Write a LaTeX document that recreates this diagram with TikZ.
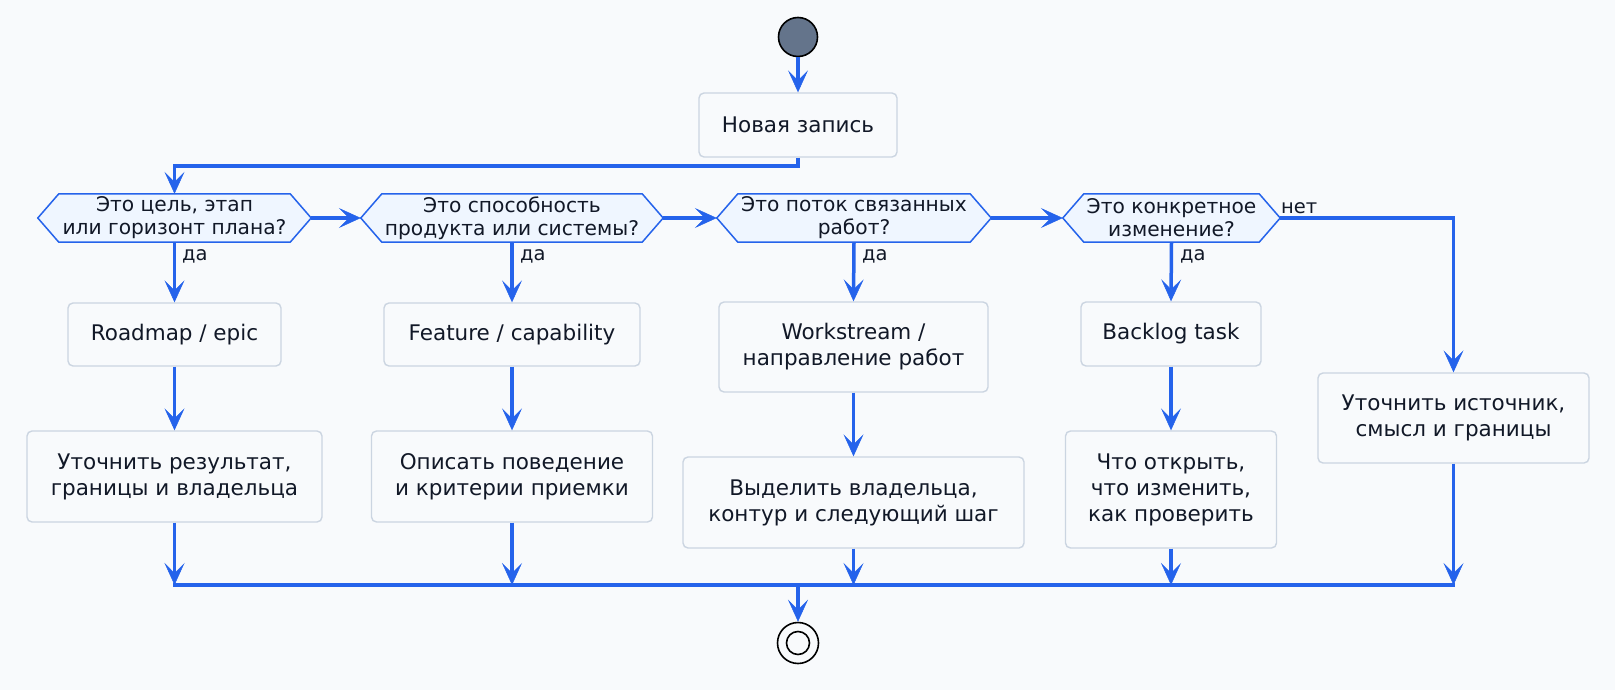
\documentclass[tikz,border=0pt]{standalone}
\usepackage{fontspec}
\setmainfont{DejaVu Sans}
\usetikzlibrary{arrows.meta,calc}
\definecolor{bgc}{HTML}{F8FAFC}
\definecolor{flow}{HTML}{2563EB}
\definecolor{hexfill}{HTML}{EFF6FF}
\definecolor{boxline}{HTML}{CBD5E1}
\definecolor{boxfill}{HTML}{F8FAFC}
\definecolor{ink}{HTML}{111827}
\definecolor{startfill}{HTML}{64748B}
\pgfdeclarelayer{background}
\pgfsetlayers{background,main}
\begin{document}
\begin{tikzpicture}[x=1pt,y=-1pt,
  boxn/.style={draw=boxline, fill=boxfill, rounded corners=5pt, line width=1.4pt,
    align=center, font=\fontsize{21.5}{26}\selectfont, text=ink, inner sep=0pt},
  hexn/.style={align=center, font=\fontsize{20.2}{23}\selectfont, text=ink,
    inner sep=0pt, minimum height=48pt},
  hexd/.style={draw=flow, fill=hexfill, line width=1.5pt, line join=miter},
  conn/.style={draw=flow, line width=3.5pt,
    -{Stealth[length=22pt,width=20pt,inset=10pt,line width=0.5pt]}},
  plainconn/.style={draw=flow, line width=3.5pt},
  lbl/.style={font=\fontsize{19.5}{22}\selectfont, text=ink, inner sep=0pt, anchor=west}]
\begin{pgfonlayer}{background}
\fill[bgc] (0,0) rectangle (1615,690);
\end{pgfonlayer}
\useasboundingbox (0,0) rectangle (1615,690);

% start / end
\node[circle, draw=black, line width=1.6pt, fill=startfill, minimum size=39pt, inner sep=0pt] (start) at (798,37) {};
\node[circle, draw=black, line width=1.6pt, fill=bgc, minimum size=41pt, inner sep=0pt] (stop) at (798,643) {};
\node[circle, draw=black, line width=1.6pt, minimum size=23pt, inner sep=0pt] (stopin) at (798,643) {};

% boxes
\node[boxn, minimum width=198pt, minimum height=64pt] (new) at (798,125) {Новая запись};
\node[boxn, minimum width=213pt, minimum height=63pt] (road) at (174.5,334.5) {Roadmap / epic};
\node[boxn, minimum width=295pt, minimum height=91pt] (res) at (174.5,476.5) {Уточнить результат,\\границы и владельца};
\node[boxn, minimum width=256pt, minimum height=63pt] (feat) at (512,334.5) {Feature / capability};
\node[boxn, minimum width=281pt, minimum height=91pt] (opis) at (512,476.5) {Описать поведение\\и критерии приемки};
\node[boxn, minimum width=269pt, minimum height=90pt] (work) at (853.5,347) {Workstream /\\направление работ};
\node[boxn, minimum width=341pt, minimum height=91pt] (vyd) at (853.5,502.5) {Выделить владельца,\\контур и следующий шаг};
\node[boxn, minimum width=180pt, minimum height=64pt] (back) at (1171,334) {Backlog task};
\node[boxn, minimum width=211pt, minimum height=117pt] (chto) at (1171,489.5) {Что открыть,\\что изменить,\\как проверить};
\node[boxn, minimum width=271pt, minimum height=90pt] (utoch) at (1453.5,418) {Уточнить источник,\\смысл и границы};

% hexagons
\node[hexn, minimum width=273pt] (h1) at (174.5,218) {Это цель, этап\\или горизонт плана?};
\node[hexn, minimum width=302pt] (h2) at (512,218) {Это способность\\продукта или системы?};
\node[hexn, minimum width=274pt] (h3) at (854,218) {Это поток связанных\\работ?};
\node[hexn, minimum width=217pt] (h4) at (1171.5,218) {Это конкретное\\изменение?};
\begin{pgfonlayer}{background}
\foreach \h in {h1,h2,h3,h4}
  \draw[hexd] (\h.west) -- ($(\h.north west)+(21,0)$) -- ($(\h.north east)+(-21,0)$)
    -- (\h.east) -- ($(\h.south east)+(-21,0)$) -- ($(\h.south west)+(21,0)$) -- cycle;
\end{pgfonlayer}

% merge bar
\coordinate (mL) at (174.5,585);
\coordinate (mR) at (1453.5,585);
\coordinate (mC) at (798,585);
\coordinate (top) at (798,166);

% connectors
\draw[conn] (start) -- (new);
\draw[conn] (new.south) -- (top) -| (h1.north);
\draw[conn] (h1.east) -- (h2.west);
\draw[conn] (h2.east) -- (h3.west);
\draw[conn] (h3.east) -- (h4.west);
\draw[conn] (h4.east) -| (utoch.north);

\draw[conn] (h1.south) -- (road.north);
\draw[conn] (h2.south) -- (feat.north);
\draw[conn] (h3.south) -- (work.north);
\draw[conn] (h4.south) -- (back.north);

\draw[conn] (road) -- (res);
\draw[conn] (feat) -- (opis);
\draw[conn] (work) -- (vyd);
\draw[conn] (back) -- (chto);

\draw[plainconn, line cap=rect] (mL) -- (mR);
\draw[conn] (res.south) -- (res.south |- mL);
\draw[conn] (opis.south) -- (opis.south |- mL);
\draw[conn] (vyd.south) -- (vyd.south |- mL);
\draw[conn] (chto.south) -- (chto.south |- mL);
\draw[conn] (utoch.south) -- (utoch.south |- mL);
\draw[conn] (mC) -- (stop);

% labels
\node[lbl] (l1) at (182,256) {да};
\node[lbl] (l2) at (520,256) {да};
\node[lbl] (l3) at (862,256) {да};
\node[lbl] (l4) at (1180,256) {да};
\node[lbl] (l5) at (1281,208) {нет};
\end{tikzpicture}
\end{document}
